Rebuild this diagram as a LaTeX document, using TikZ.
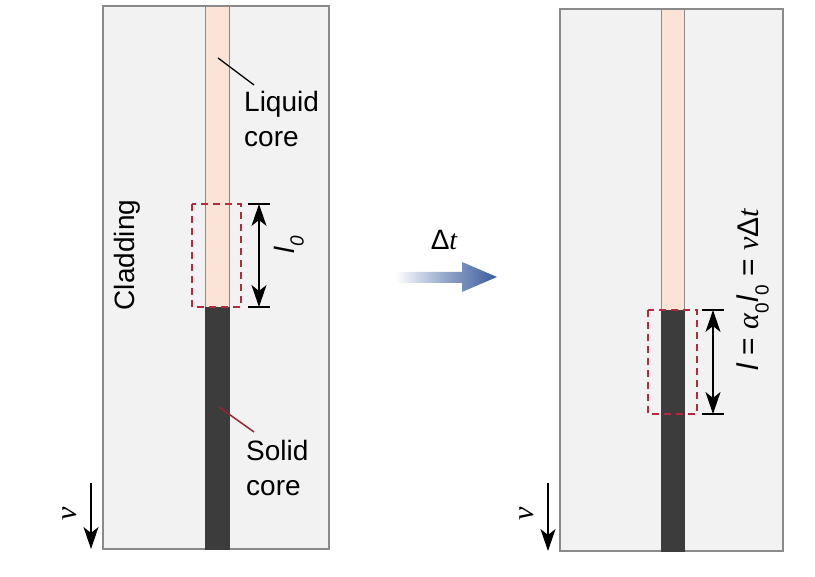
\documentclass[tikz,border=0pt]{standalone}
\usepackage{fontspec}
\setmainfont{Liberation Sans}
\newfontfamily\tms{Liberation Serif}
\usetikzlibrary{arrows.meta}
\definecolor{clad}{HTML}{F2F2F2}
\definecolor{cladedge}{HTML}{8A8A8A}
\definecolor{liq}{HTML}{FBE4D6}
\definecolor{sol}{HTML}{3C3C3C}
\definecolor{dashred}{HTML}{B8283E}
\definecolor{arrblue}{HTML}{3A5C9C}
\newcommand{\gnu}{{\tms\itshape ν}}
\newcommand{\galpha}{{\tms\itshape α}}
\newcommand{\tvar}{{\tms\itshape t}}
\newcommand{\lowsub}[1]{\raisebox{-0.32em}{\fontsize{19}{22}\selectfont #1}}
\tikzset{
  cladbox/.style={fill=clad,draw=cladedge,line width=1.2pt},
  liqcore/.style={fill=liq,draw=cladedge,line width=0.8pt},
  solcore/.style={fill=sol,draw=sol,line width=0.8pt},
  dbox/.style={draw=dashred,line width=1.6pt,dash pattern=on 7pt off 5pt},
  dimline/.style={line width=1.6pt,{Stealth[length=22pt,width=15pt,inset=6pt]}-{Stealth[length=22pt,width=15pt,inset=6pt]}},
  tick/.style={line width=1.6pt},
  lbl/.style={font=\fontsize{28}{32}\selectfont,inner sep=0pt},
  vel/.style={line width=1.5pt,-{Stealth[length=22pt,width=15pt,inset=6pt]}},
}
\begin{document}
\begin{tikzpicture}[x=1pt,y=-1pt]
\useasboundingbox (0,0) rectangle (815,577);
% ---------- left panel
\draw[cladbox] (103,6) rectangle (329,549);
\draw[liqcore] (205,6) rectangle (229,307);
\draw[solcore] (205,307) rectangle (229,549);
\draw[dbox] (192,204) rectangle (241,307);
\coordinate (la) at (259,204); \coordinate (lb) at (259,307);
\draw[tick] (248,204) -- (270,204);
\draw[tick] (248,307) -- (270,307);
\draw[dimline] (la) -- (lb);
\node[lbl,rotate=90] (l0) at (289,245) {\textit{l}\lowsub{\textit{0}}};
\node[lbl,rotate=90] (clad) at (127,255) {Cladding};
\node[lbl,align=left,anchor=north west] (liqtxt) at (244,91) {Liquid\\[3pt]core};
\coordinate (liqpt) at (218,58);
\draw[line width=1.3pt] (liqpt) -- ([xshift=10pt,yshift=6pt]liqtxt.north west);
\node[lbl,align=left,anchor=north west] (soltxt) at (246,440) {Solid\\[3pt]core};
\coordinate (solpt) at (219,407);
\draw[line width=1.5pt,color=dashred!85!black] (solpt) -- ([xshift=8pt,yshift=8pt]soltxt.north west);
\coordinate (v1a) at (91,483); \coordinate (v1b) at (91,549);
\draw[vel] (v1a) -- (v1b);
\node[font=\fontsize{30}{34}\selectfont,inner sep=0pt,rotate=90] (nu1) at (70,514) {\gnu};
% ---------- arrow
\shade[left color=white,right color=arrblue,middle color=arrblue!55]
  (395,272) -- (462,272) -- (462,262) -- (497,277) -- (462,292) -- (462,283) -- (395,283) -- cycle;
\node[font=\fontsize{28}{32}\selectfont,inner sep=0pt] (dt) at (444,240) {Δ\tvar};
% ---------- right panel
\draw[cladbox] (560,9) rectangle (783,551);
\draw[liqcore] (661,9) rectangle (684,310);
\draw[solcore] (661,310) rectangle (684,551);
\draw[dbox] (648,310) rectangle (697,414);
\coordinate (ra) at (713,310); \coordinate (rb) at (713,414);
\draw[tick] (702,310) -- (724,310);
\draw[tick] (702,414) -- (724,414);
\draw[dimline] (ra) -- (rb);
\node[font=\fontsize{30}{34}\selectfont,inner sep=0pt,rotate=90] (eq) at (753,290) {\textit{l} = \galpha\lowsub{0}\textit{l}\lowsub{0} = \gnu Δ\tvar};
\coordinate (v2a) at (548,483); \coordinate (v2b) at (548,551);
\draw[vel] (v2a) -- (v2b);
\node[font=\fontsize{30}{34}\selectfont,inner sep=0pt,rotate=90] (nu2) at (527,514) {\gnu};
\end{tikzpicture}
\end{document}
